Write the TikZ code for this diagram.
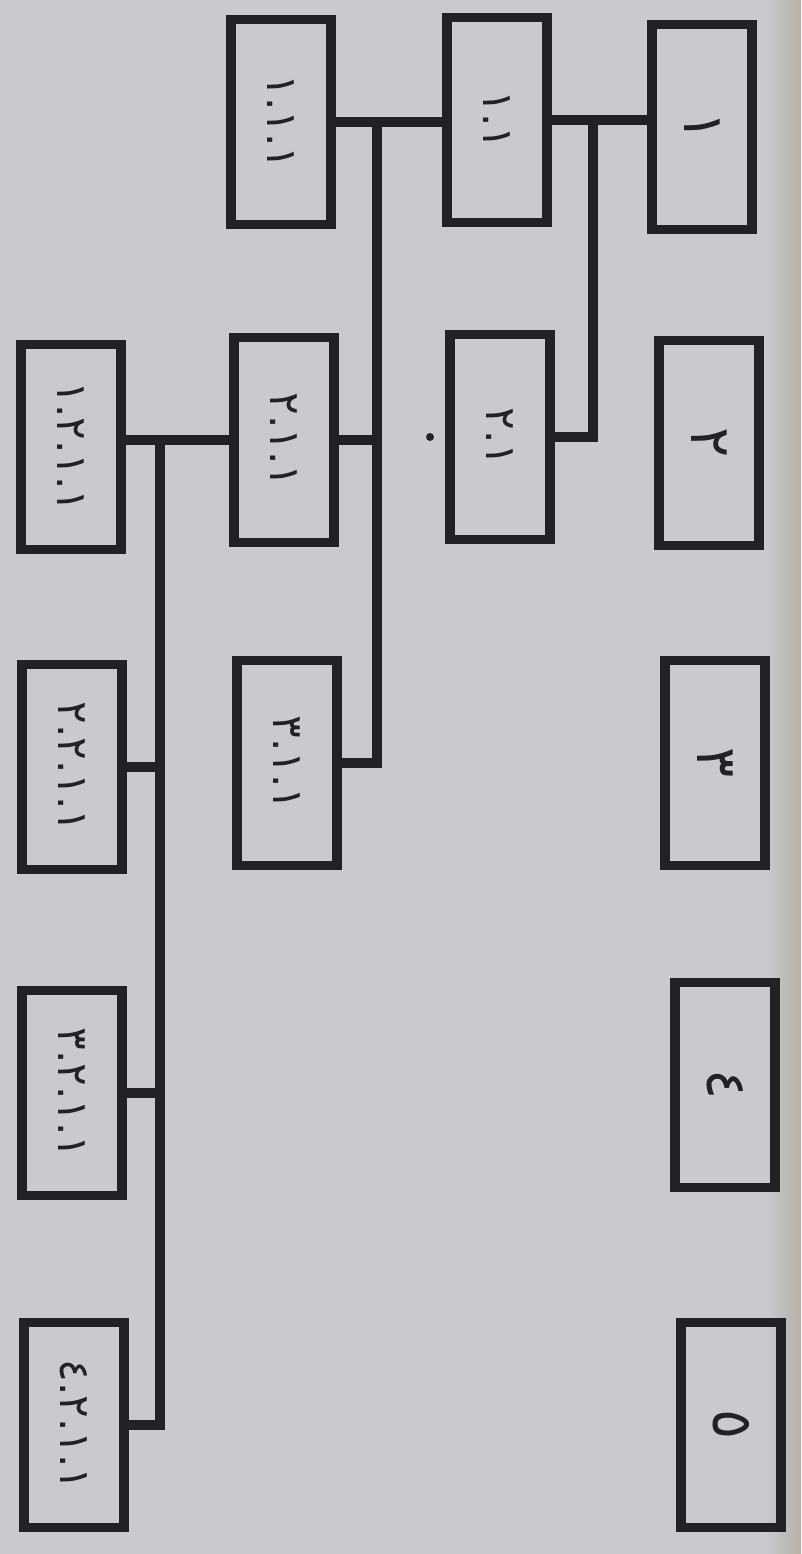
\documentclass[tikz,border=0pt]{standalone}
\usepackage{fontspec}
\usepackage{graphicx}
\newfontfamily\hindidigits{DejaVu Sans}
\definecolor{paper}{RGB}{201,201,207}
\definecolor{ink}{RGB}{34,34,38}
\definecolor{edge}{RGB}{184,176,168}
\newcommand{\lbl}[1]{\rotatebox{-90}{\hindidigits #1}}

\begin{document}
\begin{tikzpicture}[x=0.02cm,y=-0.02cm,
  box/.style={draw=ink,line width=0.19cm,line join=miter,minimum width=2.0cm,minimum height=4.1cm,inner sep=0pt,font=\fontsize{24}{28}\selectfont,text=ink},
  bigbox/.style={box,font=\fontsize{32}{36}\selectfont},
  link/.style={draw=ink,line width=0.19cm,line join=miter}]
\fill[paper] (0,0) rectangle (801,1554);
\shade[left color=paper,right color=edge] (765,0) rectangle (801,1554);
\useasboundingbox (0,0) rectangle (801,1554);

\node[bigbox] (b1) at (702,127) {\lbl{١}};
\node[bigbox] (b2) at (709,443) {\lbl{٢}};
\node[bigbox] (b3) at (715,763) {\lbl{٣}};
\node[bigbox] (b4) at (725,1085) {\lbl{٤}};
\node[bigbox] (b5) at (731,1425) {\lbl{٥}};

\node[box] (b11) at (497,120) {\lbl{١.١}};
\node[box] (b21) at (500,437) {\lbl{٢.١}};

\node[box] (b111) at (281,122) {\lbl{١.١.١}};
\node[box] (b211) at (284,440) {\lbl{٢.١.١}};
\node[box] (b311) at (287,763) {\lbl{٣.١.١}};

\node[box] (b1211) at (71,447) {\lbl{١.٢.١.١}};
\node[box] (b2211) at (72,767) {\lbl{٢.٢.١.١}};
\node[box] (b3211) at (72,1093) {\lbl{٣.٢.١.١}};
\node[box] (b4211) at (74,1425) {\lbl{٤.٢.١.١}};

\coordinate (j1) at (377,122);
\coordinate (j2) at (593,120);
\coordinate (j3) at (160,440);

\draw[link] (b11.east) -- (b11.east -| b1.west);
\draw[link] (j2) |- (b21.east);

\draw[link] (b111.east) -- (b111.east -| b11.west);
\draw[link] (j1) |- (b311.east);
\draw[link] (b211.east) -- (b211.east -| j1);

\draw[link] (b211.west) -- (b211.west -| b1211.east);
\draw[link] (j3) |- (b4211.east);
\draw[link] (b2211.east) -- (b2211.east -| j3);
\draw[link] (b3211.east) -- (b3211.east -| j3);

\fill[ink] (430,437) circle (4);

\end{tikzpicture}
\end{document}
